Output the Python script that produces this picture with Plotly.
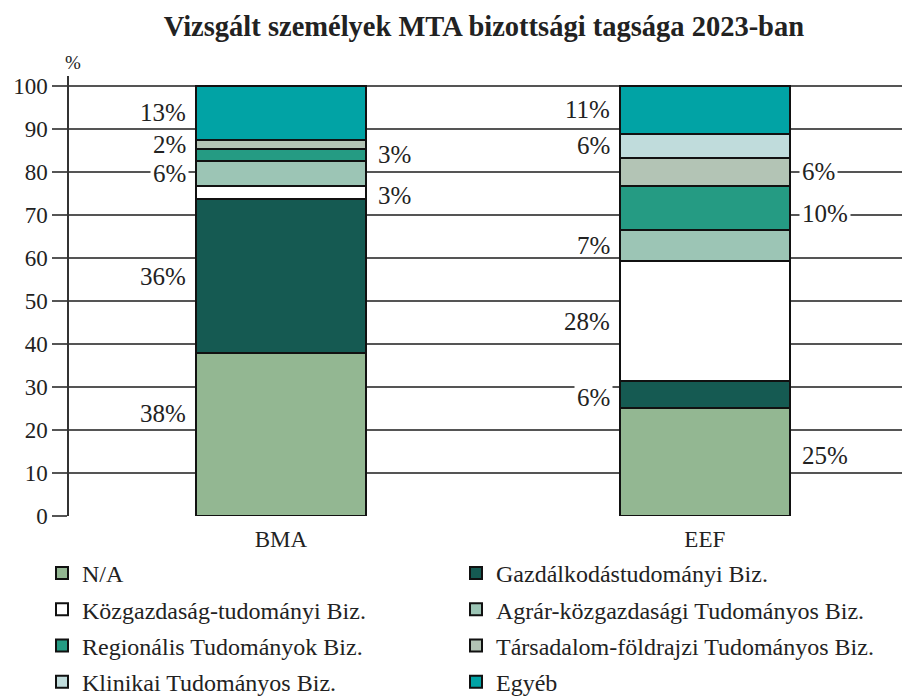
import plotly.graph_objects as go

categories = ["BMA", "EEF"]
series_names = [
    "N/A",
    "Gazdálkodástudományi Biz.",
    "Közgazdaság-tudományi Biz.",
    "Agrár-közgazdasági Tudományos Biz.",
    "Regionális Tudományok Biz.",
    "Társadalom-földrajzi Tudományos Biz.",
    "Klinikai Tudományos Biz.",
    "Egyéb",
]
# values (%) per series: [BMA, EEF]
na_vals = [37.8, 25.0]
gazd_vals = [36.0, 6.4]
kozg_vals = [2.9, 27.8]
agrar_vals = [5.9, 7.4]
reg_vals = [2.8, 10.2]
tars_vals = [2.0, 6.4]
klin_vals = [0.0, 5.7]
egyeb_vals = [12.6, 11.1]
series_values = [na_vals, gazd_vals, kozg_vals, agrar_vals, reg_vals, tars_vals, klin_vals, egyeb_vals]

colors = ["#93B792", "#155A52", "#FFFFFF", "#9CC5B5", "#259B83", "#B3C4B5", "#C0DCDC", "#01A3A5"]

# label side per series for each category: L = left of bar, R = right of bar
label_sides = {
    "BMA": ["L", "L", "R", "L", "R", "L", None, "L"],
    "EEF": ["R", "L", "L", "L", "R", "R", "L", "L"],
}
# vertical nudges of labels (in % units) relative to the segment middle
label_nudge = {
    "BMA": [5.0, 0, -0.8, 0, 0, 0, 0, 0],
    "EEF": [1.5, -0.6, 0, 0, -1.3, 0, 0, 0],
}
y_ticks = list(range(0, 101, 10))

serif = "Liberation Serif"
W, H = 903, 690  # page body adds an ~7px offset; keep the figure inside the 910x697 window
fig = go.Figure()

for k, (name, vals, col) in enumerate(zip(series_names, series_values, colors)):
    fig.add_trace(go.Bar(
        x=categories, y=vals, name=name,
        marker=dict(color=col, line=dict(color="#111111", width=2)),
        width=0.4,
        legend="legend" if k % 2 == 0 else "legend2",
        legendgroup=name,
        hoverinfo="skip",
    ))

annotations = []
for i, cat in enumerate(categories):
    cum = 0.0
    for k, vals in enumerate(series_values):
        v = vals[i]
        side = label_sides[cat][k]
        mid = cum + v / 2 + label_nudge[cat][k]
        cum += v
        if v <= 0 or side is None:
            continue
        # labels sitting on a gridline break the line (white box behind the text)
        on_grid = min(abs(mid - t) for t in y_ticks) < 2.6
        bg = "white" if on_grid else "rgba(0,0,0,0)"
        if side == "L":
            annotations.append(dict(
                x=i - 0.2, y=mid, xref="x", yref="y", text=f"{round(v)}%",
                showarrow=False, xanchor="right", yanchor="middle", xshift=-7,
                font=dict(family=serif, size=25, color="#222222"),
                bgcolor=bg, borderpad=2,
            ))
        else:
            annotations.append(dict(
                x=i + 0.2, y=mid, xref="x", yref="y", text=f"{round(v)}%",
                showarrow=False, xanchor="left", yanchor="middle", xshift=9,
                font=dict(family=serif, size=25, color="#222222"),
                bgcolor=bg, borderpad=2,
            ))

annotations.append(dict(
    x=0, y=1.0, xref="paper", yref="paper", text="%", showarrow=False,
    xanchor="left", yanchor="middle", xshift=-6, yshift=14,
    font=dict(family=serif, size=19, color="#222222"),
))

legend_common = dict(
    xref="container", yref="container", xanchor="left", yanchor="top",
    orientation="v", traceorder="grouped", tracegroupgap=2,
    font=dict(family=serif, size=24, color="#222222"), itemwidth=30,
    bgcolor="rgba(0,0,0,0)",
)

fig.update_layout(
    width=W, height=H,
    margin=dict(l=61, r=7, t=68, b=182, autoexpand=False),
    paper_bgcolor="white", plot_bgcolor="white",
    barmode="stack",
    title=dict(text="<b>Vizsgált személyek MTA bizottsági tagsága 2023-ban</b>",
               x=0.527, xanchor="center", y=1 - 18 / H, yanchor="middle",
               font=dict(family=serif, size=28.5, color="#222222")),
    font=dict(family=serif, size=20, color="#222222"),
    xaxis=dict(range=[-0.5, 1.47], showgrid=False, showline=False,
               ticks="outside", ticklen=2, tickcolor="rgba(0,0,0,0)",
               automargin=False,
               tickfont=dict(family=serif, size=23, color="#222222")),
    yaxis=dict(range=[0, 102.3], tickvals=y_ticks,
               automargin=False,
               showgrid=True, gridcolor="#555555", gridwidth=1.5,
               showline=True, linecolor="#333333", linewidth=1.5,
               ticks="outside", ticklen=15, tickcolor="#555555", tickwidth=1.5,
               tickfont=dict(family=serif, size=23, color="#222222"),
               zeroline=False),
    legend=dict(x=34 / W, y=1 - 543 / H, **legend_common),
    legend2=dict(x=448 / W, y=1 - 543 / H, **legend_common),
    annotations=annotations,
    showlegend=True,
)

fig.write_html("out.html")
